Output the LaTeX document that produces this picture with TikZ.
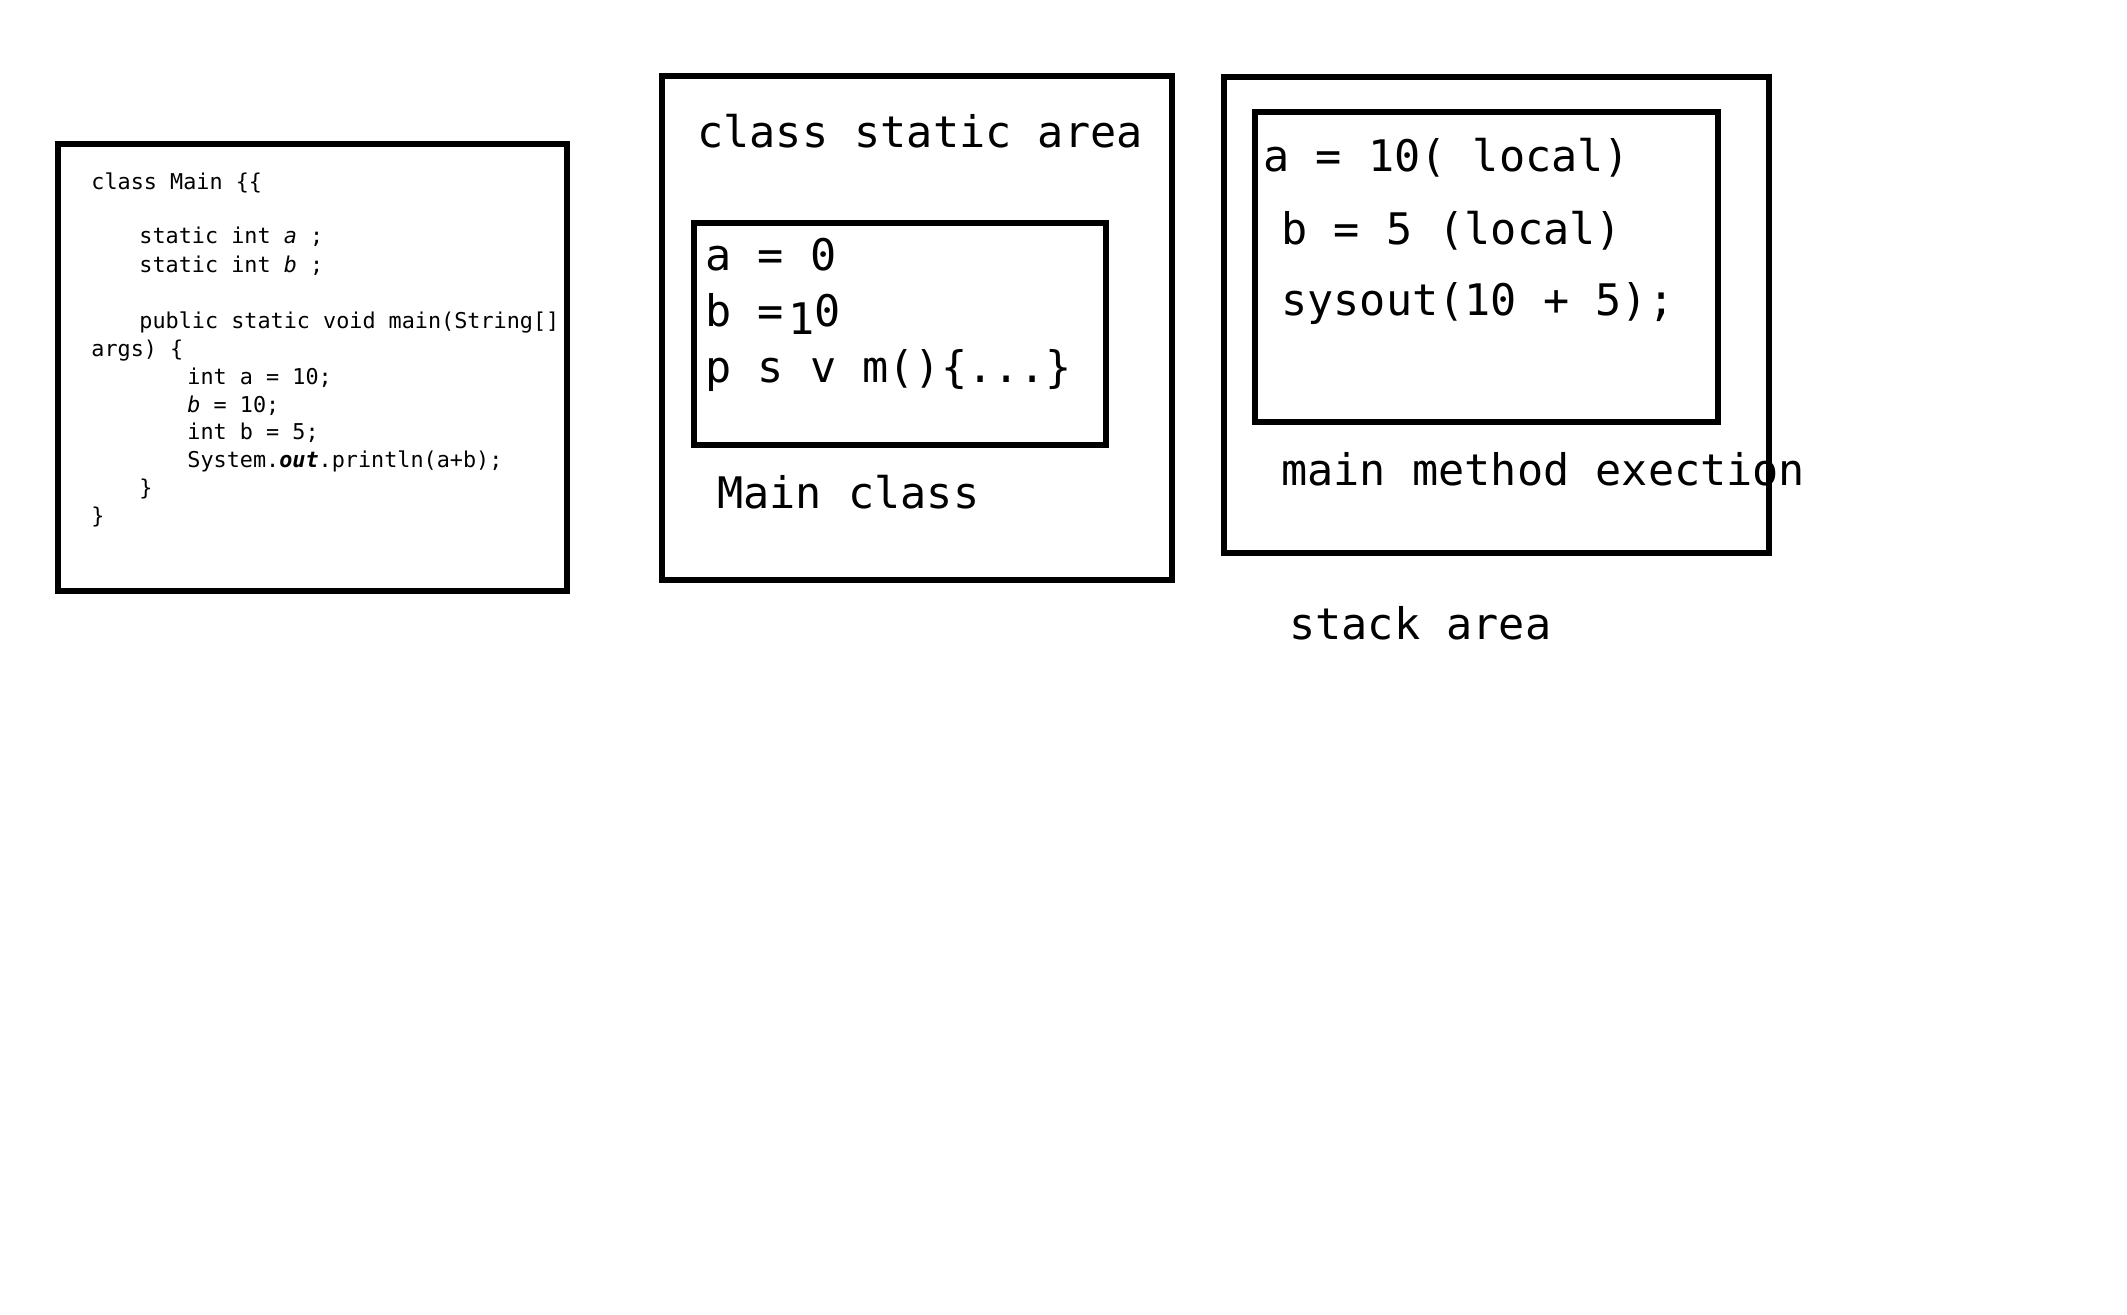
\documentclass[tikz,border=0pt]{standalone}
\usepackage{fontspec}
\usepackage{tikz}
\newfontfamily\memfont{DejaVu Sans Mono}
\newcommand{\codesize}{\fontsize{10.9}{14}\selectfont}
\newcommand{\areasize}{\fontsize{21.75}{26}\selectfont}
\tikzset{
  membox/.style={draw=black, line width=2.6pt},
  codeline/.style={anchor=base west, inner sep=0pt, font=\memfont\codesize},
  areatext/.style={anchor=base west, inner sep=0pt, font=\memfont\areasize}
}

\begin{document}
\begin{tikzpicture}[x=0.5pt,y=-0.5pt]
\useasboundingbox[fill=white] (0,0) rectangle (2127,1314);

% source code
\draw[membox] (58,144) rectangle (567,591);
\node[codeline] (code1) at (91,189) {class Main \{\{};
\node[codeline] (code2) at (139,243.5) {static int \textit{a} ;};
\node[codeline] (code3) at (139,272) {static int \textit{b} ;};
\node[codeline] (code4) at (139,328.5) {public static void main(String[]};
\node[codeline] (code5) at (91,356.5) {args) \{};
\node[codeline] (code6) at (187,384.5) {int a = 10;};
\node[codeline] (code7) at (187,412) {\textit{b} = 10;};
\node[codeline] (code8) at (187,439.5) {int b = 5;};
\node[codeline] (code9) at (187,467.5) {System.\textbf{\textit{out}}.println(a+b);};
\node[codeline] (code10) at (139,495.5) {\}};
\node[codeline] (code11) at (91,523.5) {\}};

% class static area
\draw[membox] (662,76) rectangle (1172,580);
\node[areatext] (static) at (697,147) {class static area};
\draw[membox] (694,223) rectangle (1106,445);
\node[areatext] (sa) at (705,270) {a = 0};
\node[areatext] (sb) at (705,326) {b = \kern-0.5em\raisebox{-0.2em}{1}0};
\node[areatext] (sm) at (705,382) {p s v m()\{...\}};
\node[areatext] (mainclass) at (717,508) {Main class};

% stack area
\draw[membox] (1224,77) rectangle (1769,553);
\draw[membox] (1255,112) rectangle (1718,422);
\node[areatext] (la) at (1263,171) {a = 10( local)};
\node[areatext] (lb) at (1281,244.5) {b = 5 (local)};
\node[areatext] (lsys) at (1281,315) {sysout(10 + 5);};
\node[areatext] (exec) at (1281,485) {main method exection};
\node[areatext] (stack) at (1289,639.5) {stack area};

\end{tikzpicture}
\end{document}
